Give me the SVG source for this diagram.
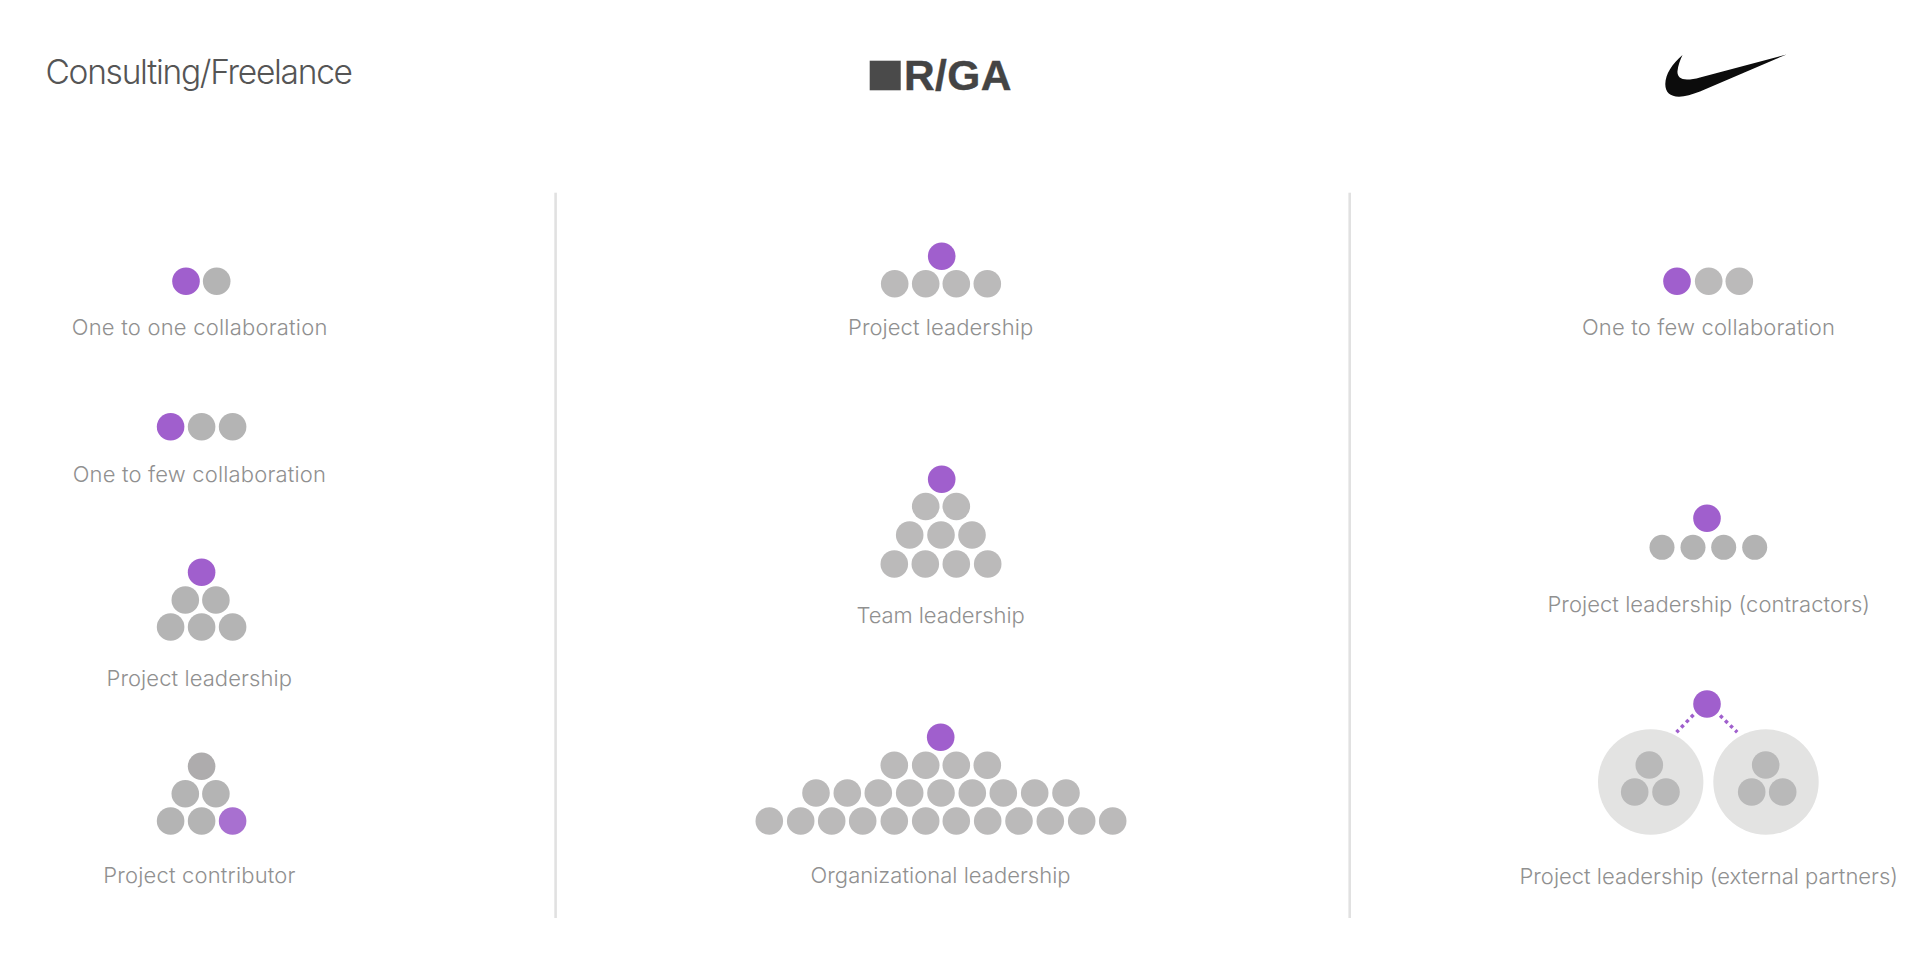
<svg xmlns="http://www.w3.org/2000/svg" width="1920" height="964" viewBox="0 0 1920 964">
<style>
text{font-family:"Inter","Liberation Sans",sans-serif;font-weight:300}
.lb{font-size:22px;fill:#909090}
.ti{font-size:33.5px;fill:#555}
.lg{font-family:"Liberation Sans",Arial,sans-serif;font-weight:700;font-size:42.5px;fill:#444;stroke:#444;stroke-width:.4}
.p{fill:#a05fcd}
.g{fill:#b4b4b4}
.m{fill:#bbbaba}
.n{fill:#b3b3b3}
.big{fill:#e3e3e2}
.s{fill:#b9b9b9}
.div{fill:#e1e1e1}
.dot{stroke:#a05fcd;stroke-width:3.5;stroke-dasharray:3.5 3.57;fill:none}
</style>
<defs>
<circle id="c" r="13.8"/>
<circle id="t" r="12.5"/>
</defs>
<rect width="1920" height="964" fill="#fff"/>
<g id="dividers">
<rect class="div" x="554.3" y="192.7" width="2.6" height="725.3"/>
<rect class="div" x="1348.4" y="192.7" width="2.6" height="725.3"/>
</g>
<g id="header-consulting"><text class="ti" x="45.5" y="83.5" textLength="307.5">Consulting/Freelance</text></g>
<g id="header-rga">
<rect x="869.7" y="60.7" width="31" height="29.6" fill="#4a4a4a"/>
<text class="lg" x="904" y="90.3" textLength="107.5">R/GA</text>
</g>
<g id="header-nike">
<path fill="#0c0c0c" d="M1682.5 55C1672 64 1665.5 74 1665.3 84C1665.2 92 1670 96.7 1679 96.7C1685 96.7 1692 94.5 1700 91.5L1786.5 54.4L1700 77.5C1695 79 1691 79.5 1687 79.5C1680 79.5 1677 76 1677.5 71C1678 66 1680 60 1682.5 55Z"/>
</g>
<g id="connectors">
<line class="dot" x1="1693.5" y1="714.8" x2="1676.5" y2="732.2"/>
<line class="dot" x1="1720.1" y1="715.5" x2="1737.2" y2="732.2"/>
</g>
<g id="consulting-one-to-one">
<use href="#c" class="p" x="186" y="281.3"/><use href="#c" class="g" x="216.7" y="281.3"/>
<text class="lb" x="71.8" y="335" textLength="255.6">One to one collaboration</text>
</g>
<g id="consulting-one-to-few">
<use href="#c" class="p" x="170.6" y="426.7"/><use href="#c" class="g" x="201.6" y="426.7"/><use href="#c" class="g" x="232.6" y="426.7"/>
<text class="lb" x="72.7" y="481.7" textLength="253.2">One to few collaboration</text>
</g>
<g id="consulting-project-leadership">
<use href="#c" class="p" x="201.6" y="572.3"/>
<use href="#c" class="g" x="185.3" y="600"/><use href="#c" class="g" x="215.9" y="600"/>
<use href="#c" class="g" x="170.6" y="627"/><use href="#c" class="g" x="201.6" y="627"/><use href="#c" class="g" x="232.6" y="627"/>
<text class="lb" x="106.5" y="686" textLength="185.4">Project leadership</text>
</g>
<g id="consulting-project-contributor">
<use href="#c" x="201.6" y="766.3" fill="#aeacad"/>
<use href="#c" class="g" x="185.3" y="793.7"/><use href="#c" class="g" x="215.9" y="793.7"/>
<use href="#c" class="g" x="170.6" y="821"/><use href="#c" class="g" x="201.6" y="821"/><use href="#c" x="232.6" y="821" fill="#a870d0"/>
<text class="lb" x="103.2" y="883" textLength="192.3">Project contributor</text>
</g>
<g id="rga-project-leadership">
<use href="#c" class="p" x="941.7" y="256.3"/>
<use href="#c" class="m" x="894.7" y="283.7"/><use href="#c" class="m" x="925.7" y="283.7"/><use href="#c" class="m" x="956.3" y="283.7"/><use href="#c" class="m" x="987.3" y="283.7"/>
<text class="lb" x="848" y="335" textLength="185.2">Project leadership</text>
</g>
<g id="rga-team-leadership">
<use href="#c" class="p" x="941.7" y="479.3"/>
<use href="#c" class="m" x="925.7" y="506.5"/><use href="#c" class="m" x="956.3" y="506.5"/>
<use href="#c" class="m" x="909.7" y="535"/><use href="#c" class="m" x="941" y="535"/><use href="#c" class="m" x="972" y="535"/>
<use href="#c" class="m" x="894.3" y="564"/><use href="#c" class="m" x="925.3" y="564"/><use href="#c" class="m" x="956.3" y="564"/><use href="#c" class="m" x="987.7" y="564"/>
<text class="lb" x="856.5" y="623.3" textLength="168.3">Team leadership</text>
</g>
<g id="rga-organizational-leadership">
<use href="#c" class="p" x="940.7" y="737.3"/>
<use href="#c" class="m" x="894.3" y="765.3"/><use href="#c" class="m" x="925.7" y="765.3"/><use href="#c" class="m" x="956.3" y="765.3"/><use href="#c" class="m" x="987.3" y="765.3"/>
<use href="#c" class="m" x="816" y="793"/><use href="#c" class="m" x="847.3" y="793"/><use href="#c" class="m" x="878.3" y="793"/><use href="#c" class="m" x="909.7" y="793"/><use href="#c" class="m" x="941" y="793"/><use href="#c" class="m" x="972.3" y="793"/><use href="#c" class="m" x="1003.3" y="793"/><use href="#c" class="m" x="1034.7" y="793"/><use href="#c" class="m" x="1066" y="793"/>
<use href="#c" class="m" x="769.3" y="821"/><use href="#c" class="m" x="800.7" y="821"/><use href="#c" class="m" x="831.7" y="821"/><use href="#c" class="m" x="862.7" y="821"/><use href="#c" class="m" x="894.3" y="821"/><use href="#c" class="m" x="925.7" y="821"/><use href="#c" class="m" x="956.3" y="821"/><use href="#c" class="m" x="987.7" y="821"/><use href="#c" class="m" x="1019" y="821"/><use href="#c" class="m" x="1050.3" y="821"/><use href="#c" class="m" x="1081.7" y="821"/><use href="#c" class="m" x="1112.7" y="821"/>
<text class="lb" x="810.6" y="883" textLength="260">Organizational leadership</text>
</g>
<g id="nike-one-to-few">
<use href="#c" class="p" x="1677" y="281.3"/><use href="#c" class="m" x="1708.7" y="281.3"/><use href="#c" class="m" x="1739.3" y="281.3"/>
<text class="lb" x="1582" y="335" textLength="253">One to few collaboration</text>
</g>
<g id="nike-project-leadership-contractors">
<use href="#c" class="p" x="1707" y="518.3"/>
<use href="#t" class="n" x="1662" y="547.3"/><use href="#t" class="n" x="1693" y="547.3"/><use href="#t" class="n" x="1723.7" y="547.3"/><use href="#t" class="n" x="1754.7" y="547.3"/>
<text class="lb" x="1547.5" y="612.2" textLength="322.5">Project leadership (contractors)</text>
</g>
<g id="nike-project-leadership-external">
<use href="#c" class="p" x="1707" y="704"/>
<circle class="big" cx="1650.7" cy="782" r="52.7"/><circle class="big" cx="1766" cy="782" r="52.7"/>
<use href="#c" class="s" x="1649.3" y="765"/><use href="#c" class="s" x="1634.7" y="792"/><use href="#c" class="s" x="1666" y="792"/>
<use href="#c" class="s" x="1765.7" y="765"/><use href="#c" class="s" x="1751.7" y="792"/><use href="#c" class="s" x="1782.7" y="792"/>
<text class="lb" x="1519.5" y="884" textLength="378.5">Project leadership (external partners)</text>
</g>
</svg>
